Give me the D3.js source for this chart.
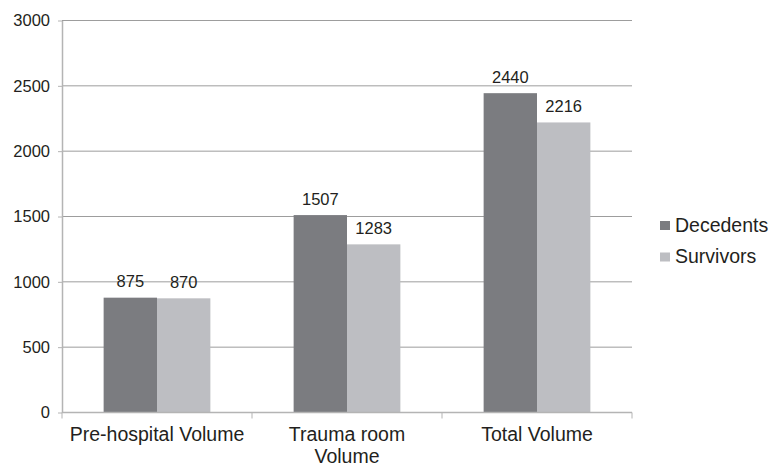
<!DOCTYPE html>
<html>
<head>
<meta charset="utf-8">
<script src="https://cdn.jsdelivr.net/npm/d3@7"></script>
<style>
  body { margin: 0; background: #fff; }
  text { font-family: 'Liberation Sans', Arial, sans-serif; fill: #231f20; }
</style>
</head>
<body>
<svg id="chart" width="772" height="465"></svg>
<script>
const categories = [['Pre-hospital Volume'], ['Trauma room', 'Volume'], ['Total Volume']];
const seriesNames = ['Decedents', 'Survivors'];
const decedents = [875, 1507, 2440];
const survivors = [870, 1283, 2216];
const yTicks = [0, 500, 1000, 1500, 2000, 2500, 3000];

const colors = { Decedents: '#7b7c80', Survivors: '#bdbec2' };
const plot = { left: 62, right: 632, top: 20, bottom: 412 };

const svg = d3.select('#chart');
const catKeys = categories.map(c => c.join(' '));

const x0 = d3.scaleBand().domain(catKeys).range([plot.left, plot.right]).padding(0);
const x1 = d3.scaleBand().domain(seriesNames).range([0, x0.bandwidth()])
  .paddingInner(0).paddingOuter(0.78);
const y = d3.scaleLinear().domain([0, 3000]).range([plot.bottom, plot.top]);

// gridlines
svg.append('g')
  .selectAll('line')
  .data(yTicks.filter(t => t > 0))
  .enter()
  .append('line')
  .attr('x1', plot.left).attr('x2', plot.right)
  .attr('y1', d => y(d) + 0.5).attr('y2', d => y(d) + 0.5)
  .attr('stroke', '#9d9d9d').attr('stroke-width', 1);

// y axis
const yAxis = d3.axisLeft(y).tickValues(yTicks).tickFormat(d3.format('d'))
  .tickSize(4).tickSizeOuter(0).tickPadding(8);
const gy = svg.append('g').attr('transform', `translate(${plot.left},0.5)`).call(yAxis);
gy.select('.domain').attr('stroke', '#b4b4b4').attr('stroke-width', 1.5);
gy.selectAll('.tick line').attr('stroke', '#b4b4b4');
gy.selectAll('.tick text').style('font-size', '16.5px').style('fill', '#231f20')
  .attr('font-family', null);

// bars
const rows = catKeys.map((key, i) => ({ key, values: [
  { name: 'Decedents', value: decedents[i] },
  { name: 'Survivors', value: survivors[i] },
] }));

const groups = svg.append('g').selectAll('g')
  .data(rows)
  .enter()
  .append('g')
  .attr('transform', d => `translate(${x0(d.key)},0)`);

groups.selectAll('rect')
  .data(d => d.values)
  .enter()
  .append('rect')
  .attr('x', d => x1(d.name))
  .attr('y', d => y(d.value))
  .attr('width', x1.bandwidth())
  .attr('height', d => y(0) - y(d.value))
  .attr('fill', d => colors[d.name]);

groups.selectAll('text')
  .data(d => d.values)
  .enter()
  .append('text')
  .attr('x', d => x1(d.name) + x1.bandwidth() / 2)
  .attr('y', d => y(d.value) - 10.5)
  .attr('text-anchor', 'middle')
  .style('font-size', '16.5px')
  .text(d => d.value);

// x axis
const gx = svg.append('g').attr('transform', `translate(0,${plot.bottom + 0.5})`);
gx.append('line')
  .attr('x1', plot.left).attr('x2', plot.right)
  .attr('stroke', '#b4b4b4').attr('stroke-width', 1.5);
gx.selectAll('line.tick')
  .data(catKeys.map(k => x0(k)).concat([plot.right]))
  .enter()
  .append('line')
  .classed('tick', true)
  .attr('x1', d => d).attr('x2', d => d)
  .attr('y1', 0).attr('y2', 6)
  .attr('stroke', '#b4b4b4').attr('stroke-width', 1);

gx.selectAll('text')
  .data(categories)
  .enter()
  .append('text')
  .attr('text-anchor', 'middle')
  .attr('x', (d, i) => x0(catKeys[i]) + x0.bandwidth() / 2)
  .attr('y', 28.5)
  .style('font-size', '19.5px')
  .each(function (lines) {
    d3.select(this).selectAll('tspan')
      .data(lines)
      .enter()
      .append('tspan')
      .attr('x', d3.select(this).attr('x'))
      .attr('dy', (l, j) => (j === 0 ? 0 : 21.5))
      .text(l => l);
  });

// legend
const legend = svg.append('g').attr('transform', 'translate(660,221)');
const items = legend.selectAll('g')
  .data(seriesNames)
  .enter()
  .append('g')
  .attr('transform', (d, i) => `translate(0,${i * 31.5})`);
items.append('rect').attr('width', 10).attr('height', 9).attr('fill', d => colors[d]);
items.append('text').attr('x', 15).attr('y', 10.5).style('font-size', '19.5px').text(d => d);
</script>
</body>
</html>
